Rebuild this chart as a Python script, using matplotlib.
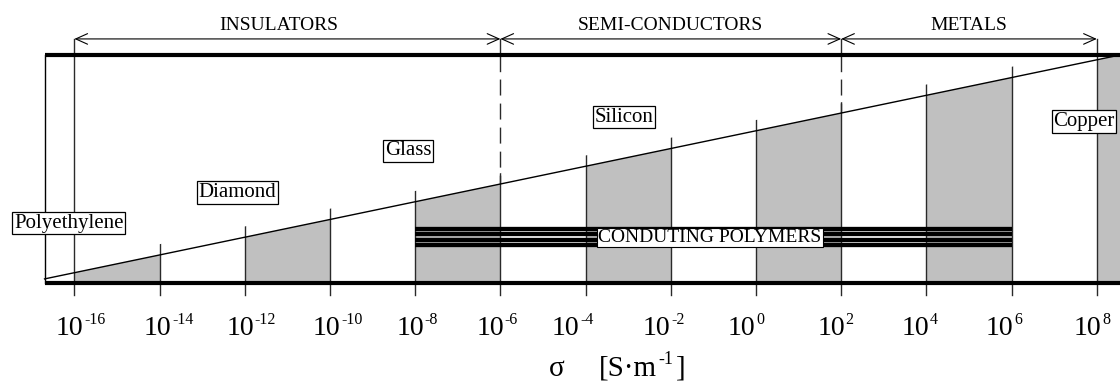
import matplotlib.pyplot as plt
from matplotlib.patches import Polygon, ArrowStyle

plt.rcParams["font.family"] = ["Liberation Serif", "DejaVu Serif"]

# log10 of conductivity (S/m) at each labelled decade
decades = [-16, -14, -12, -10, -8, -6, -4, -2, 0, 2, 4, 6, 8]
# shaded bands under the slope (lower / upper decade)
band_lo = [-16, -12, -8, -4, 0, 4, 8]
band_hi = [-14, -10, -6, -2, 2, 6, 8.6]
# material classes and their decade ranges
classes = ["INSULATORS", "SEMI-CONDUCTORS", "METALS"]
class_lo = [-16, -6, 2]
class_hi = [-6, 2, 8]
# decades that separate the classes (dashed above the slope)
class_edges = [-6, 2]
# example materials
materials = ["Polyethylene", "Diamond", "Glass", "Silicon", "Copper"]
# range covered by conducting polymers
cp_label = "CONDUTING POLYMERS"
cp_lo, cp_hi = -8, 6

# ---- layout ----
frame_left = -16.7            # left edge of the frame (decade)
slope_x = (-16.7, 8.6)        # sloping line ends (decade)
slope_y = (0.02, 1.0)         # ... and heights (frame fraction)
rise = 0.047                  # how far the band edges poke above the slope
arrow_y = 1.068
tick_bot = -0.05
class_text_x = [-11.2, -2.0, 5.0]
mat_x = [-16.13, -12.17, -8.16, -3.10, 7.70]
mat_y = [0.264, 0.397, 0.580, 0.727, 0.707]
cp_pos = (-1.08, 0.201)
stripe_y = [0.238, 0.214, 0.190, 0.166]
# left edge of each "10" relative to its tick, in pixels
lab_nudge = [-18.5, -15.8, -18.5, -17, -19, -24, -34, -28, -28, -24, -25, -26, -23]

grey = "#c0c0c0"
edge = "#2a2a2a"

fig = plt.figure(figsize=(11.2, 3.81), dpi=100)
ax = fig.add_axes([0, 0, 1, 1])
ax.set_xscale("log")
ax.set_xlim(10**-17.746, 10**8.545)
ax.set_ylim(-0.4258, 1.238)
ax.axis("off")

xl = 10**slope_x[0]
xr = 10**slope_x[1]
xmax = ax.get_xlim()[1]

under = Polygon([(xl, -1), (xl, slope_y[0]), (xr, slope_y[1]), (xr, -1)],
                closed=True, transform=ax.transData)
under_rise = Polygon([(xl, -1), (xl, slope_y[0] + rise), (xr, slope_y[1] + rise), (xr, -1)],
                     closed=True, transform=ax.transData)
over = Polygon([(xl, slope_y[0]), (xr, slope_y[1]), (xr, 3), (xl, 3)],
               closed=True, transform=ax.transData)

# shaded bands below the slope
for lo, hi in zip(band_lo, band_hi):
    f = ax.fill_between([10**lo, 10**hi], 0, 1, color=grey, lw=0, zorder=1)
    f.set_clip_path(under)

# vertical lines at every decade
for e in decades:
    x = 10**e
    if e in (decades[0], decades[-1]):
        ax.plot([x, x], [tick_bot, arrow_y], color=edge, lw=1.0, zorder=2)
        continue
    ln, = ax.plot([x, x], [tick_bot, 1.0], color=edge, lw=1.0, zorder=2)
    ln.set_clip_path(under_rise)
    if e in class_edges:
        ax.plot([x, x], [0.93, arrow_y], color=edge, lw=1.0, zorder=2)
        d, = ax.plot([x, x], [0.93, 0], color=edge, lw=1.0, zorder=2,
                     linestyle=(11.5, (11.5, 5.8)))
        d.set_clip_path(over)

# sloping line
ax.plot([xl, xr], [slope_y[0], slope_y[1]], color="black", lw=1.0, zorder=3)

# conducting polymers stripes
for y in stripe_y:
    ax.plot([10**cp_lo, 10**cp_hi], [y, y], color="black", lw=3.1,
            solid_capstyle="butt", zorder=4)

# frame
ax.plot([xl, xmax], [0, 0], color="black", lw=3, solid_capstyle="butt", zorder=5)
ax.plot([xl, xmax], [1, 1], color="black", lw=3, solid_capstyle="butt", zorder=5)
ax.plot([xl, xl], [0, 1], color="black", lw=1.0, zorder=5)

# class arrows and names
astyle = ArrowStyle("<->", head_length=0.85, head_width=0.38)
for name, lo, hi, tx in zip(classes, class_lo, class_hi, class_text_x):
    ax.annotate("", xy=(10**hi, arrow_y), xytext=(10**lo, arrow_y),
                arrowprops=dict(arrowstyle=astyle, lw=0.8, color="black",
                                shrinkA=0, shrinkB=0))
    ax.text(10**tx, 1.126, name, ha="center", va="center", fontsize=14)

# material labels
box = dict(boxstyle="square,pad=0.08", fc="white", ec="black", lw=0.9)
for name, mx, my in zip(materials, mat_x, mat_y):
    ax.text(10**mx, my, name, ha="center", va="center", fontsize=15,
            bbox=box, zorder=6)
ax.text(10**cp_pos[0], cp_pos[1], cp_label, ha="center", va="center",
        fontsize=14, bbox=dict(boxstyle="square,pad=0.05", fc="white",
                               ec="black", lw=0.8), zorder=6)

# decade labels 10^n
for e, nud in zip(decades, lab_nudge):
    x0 = nud * 0.72
    ax.annotate("10", xy=(10**e, 0), xytext=(x0, -37), textcoords="offset points",
                ha="left", va="baseline", fontsize=20)
    ax.annotate("%d" % e, xy=(10**e, 0), xytext=(x0 + 20.5, -29),
                textcoords="offset points", ha="left", va="baseline", fontsize=11.5)

# axis title
ax.annotate("σ", xy=(549, 5), xycoords="figure pixels", ha="left",
            va="baseline", fontsize=21)
t1 = ax.annotate("[S·m", xy=(599, 5), xycoords="figure pixels", ha="left",
                 va="baseline", fontsize=21)
t2 = ax.annotate("-1", xy=(1, 17), xycoords=(t1, "figure pixels"),
                 xytext=(1, 0), textcoords="offset points",
                 ha="left", va="baseline", fontsize=13)
ax.annotate("]", xy=(1, 5), xycoords=(t2, "figure pixels"),
            xytext=(1.5, 0), textcoords="offset points", ha="left",
            va="baseline", fontsize=21)

fig.savefig("out.png", dpi=100)
